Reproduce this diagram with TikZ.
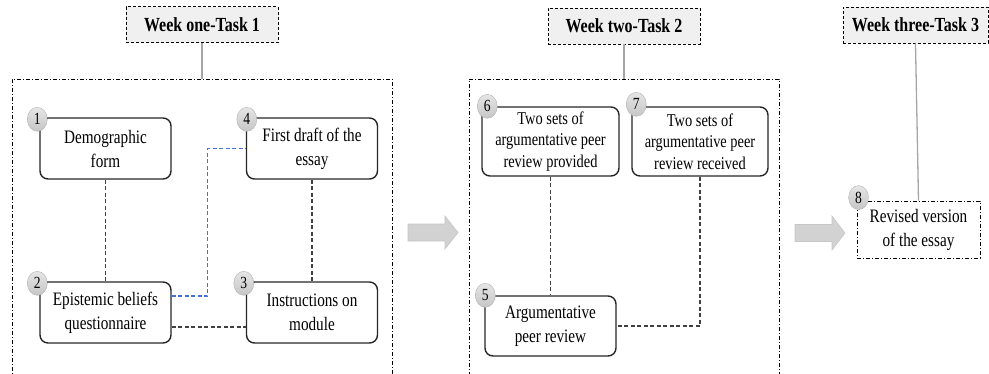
\documentclass[tikz,border=0pt]{standalone}
\usepackage{fontspec}
\setmainfont{Liberation Serif}[FakeStretch=0.8]
\usetikzlibrary{positioning, shapes.geometric}
\definecolor{linkblue}{RGB}{ 68, 114, 210}

\begin{document}
\begin{tikzpicture}[x=1pt, y=-1pt,
 weekframe/.style = {draw, thin, dash pattern=on 4pt off 2pt on 1pt off 2pt,
                   minimum width=#1, minimum height=320pt, inner sep=0pt},
  header/.style = {draw, fill=gray!12, densely dashed, thick,
                   minimum height=36pt, inner sep=0pt,
                   font=\fontsize{20}{24}\selectfont\bfseries},
    task/.style = {draw=black!85, line width=1.4pt, rounded corners=8pt, align=center,
                   minimum width=131pt, minimum height=61pt, inner sep=2pt,
                   font=\fontsize{19}{24}\selectfont},
   badge/.style = {ellipse, draw=gray!60, top color=gray!20, bottom color=gray!45,
                   minimum width=20pt, minimum height=24pt, inner sep=0pt,
                   font=\fontsize{17}{17}\selectfont},
    link/.style = {draw=black!75, line width=1.2pt, dash pattern=on 4pt off 2.5pt},
    stem/.style = {draw=gray!70, line width=1.3pt},
 blockarrow/.style = {fill=gray!35, draw=gray!45, line width=0.6pt}
                   ]
\clip (0,0) rectangle (989,373);

% week one
\node[weekframe=380pt] (f1) at (202,239) {};
\node[header, minimum width=152pt] (h1) at (202,24.5) {Week one-Task 1};
\draw[stem] (h1.south) -- (f1.north);

\node[task] (n1) at (105.5,148.5) {Demographic\\form};
\node[task] (n4) at (312,148.5)   {First draft of the\\essay};
\node[task] (n2) at (105.5,312.5) {Epistemic beliefs\\questionnaire};
\node[task] (n3) at (312,312.5)   {Instructions on\\module};

\draw[link] (n1.south) -- (n2.north);
\draw[link] (n4.south) -- (n3.north);
\draw[link] ([yshift=-14.5pt]n2.east) -- ([yshift=-14.5pt]n3.west);
\draw[link, draw=linkblue] ([yshift=16.5pt]n2.east) -- ++(36,0) |- (n4.west);

\node[badge] at ([xshift=-2pt,yshift=-2pt]n1.north west) {1};
\node[badge] at ([xshift=1pt,yshift=-2pt]n4.north west)  {4};
\node[badge] at ([xshift=-2pt,yshift=-2pt]n2.north west) {2};
\node[badge] at ([xshift=-2pt,yshift=-2pt]n3.north west) {3};

\filldraw[blockarrow] (408,224) -- (445,224) -- (445,216) -- (458,232.5)
                 -- (445,249) -- (445,241) -- (408,241) -- cycle;

% week two
\node[weekframe=310pt] (f2) at (624,239) {};
\node[header, minimum width=152pt] (h2) at (624,26) {Week two-Task 2};
\draw[stem] (h2.south) -- (f2.north);

\node[task, minimum width=137pt, minimum height=69pt,
      font=\fontsize{18}{21.7}\selectfont] (n6) at (550.5,141.5)
      {Two sets of\\argumentative peer\\review provided};
\node[task, minimum width=136pt, minimum height=69pt,
      font=\fontsize{18}{21.7}\selectfont] (n7) at (700,141.5)
      {Two sets of\\argumentative peer\\review received};
\node[task, minimum height=60pt] (n5) at (550.5,326) {Argumentative\\peer review};

\draw[link] (n6.south) -- (n5.north);
\draw[link] (n7.south) |- (n5.east);

\node[badge] at ([xshift=6pt]n6.north west)  {6};
\node[badge] at ([xshift=5pt,yshift=2pt]n7.north west) {7};
\node[badge] at ([xshift=1pt]n5.north west)  {5};

\filldraw[blockarrow] (795,224.5) -- (832,224.5) -- (832,216) -- (845,233)
                 -- (832,250) -- (832,241.5) -- (795,241.5) -- cycle;

% week three
\node[header, minimum width=145pt] (h3) at (915.5,25) {Week three-Task 3};
\node[task, draw=black, line width=0.8pt, rounded corners=0pt,
      dash pattern=on 4pt off 2pt on 1pt off 2pt,
      minimum width=123pt, minimum height=57pt] (n8) at (918.5,229.5)
      {Revised version\\of the essay};
\draw[stem] (h3.south) -- (n8.north);
\node[badge] at ([xshift=2pt,yshift=3pt]n8.north west) {8};
\end{tikzpicture}
\end{document}
